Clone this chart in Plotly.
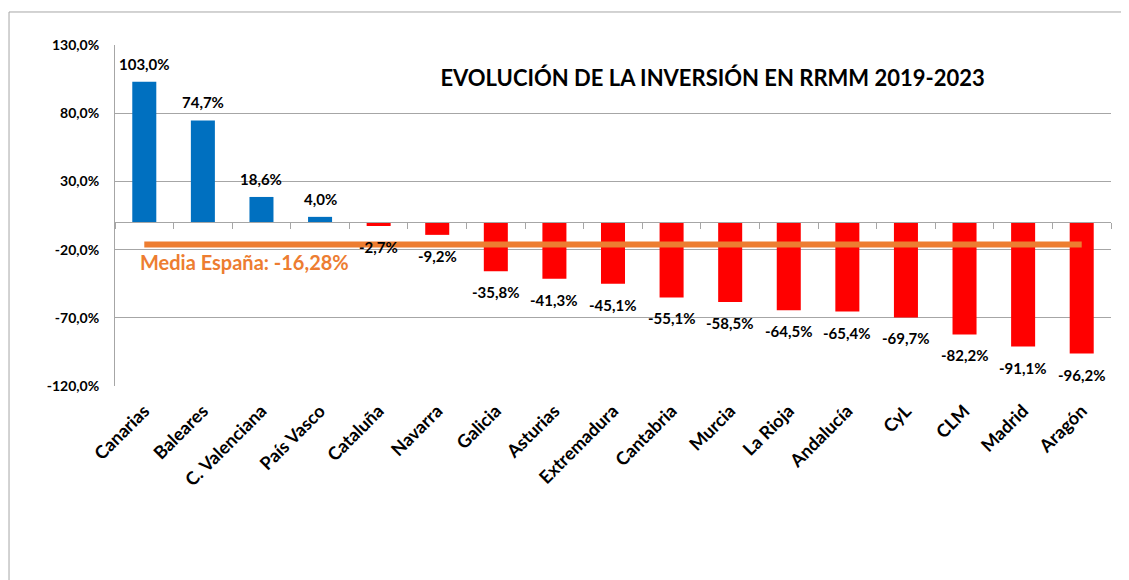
import plotly.graph_objects as go

categories = ["Canarias", "Baleares", "C. Valenciana", "País Vasco", "Cataluña", "Navarra",
              "Galicia", "Asturias", "Extremadura", "Cantabria", "Murcia", "La Rioja",
              "Andalucía", "CyL", "CLM", "Madrid", "Aragón"]
values = [103.0, 74.7, 18.6, 4.0, -2.7, -9.2, -35.8, -41.3, -45.1, -55.1, -58.5, -64.5,
          -65.4, -69.7, -82.2, -91.1, -96.2]
media_espana = -16.28
y_ticks = [-120, -70, -20, 30, 80, 130]
y_tick_labels = ["-120,0%", "-70,0%", "-20,0%", "30,0%", "80,0%", "130,0%"]
title_text = "EVOLUCIÓN DE LA INVERSIÓN EN RRMM 2019-2023"

FONT = "Lato"
colors = ["#0070C0" if v >= 0 else "#FF0000" for v in values]

fig = go.Figure()
fig.add_trace(go.Bar(
    x=categories, y=values, marker=dict(color=colors, line=dict(width=0)),
    width=0.41, showlegend=False, hoverinfo="skip",
))
fig.add_trace(go.Scatter(
    x=[categories[0], categories[-1]], y=[media_espana, media_espana],
    xaxis="x2", mode="lines", line=dict(color="#ED7D31", width=6),
    showlegend=False, hoverinfo="skip",
))

for c, v in zip(categories, values):
    fig.add_annotation(
        x=c, y=v, xref="x", yref="y",
        text=f"{v:.1f}%".replace(".", ","),
        showarrow=False, xanchor="center", yanchor="middle",
        yshift=18 if v >= 0 else -21,
        font=dict(family=FONT, size=15, color="black", weight="bold"),
    )

fig.add_annotation(
    x=categories[0], y=media_espana, xref="x", yref="y",
    text=f"Media España: {media_espana:.2f}%".replace(".", ","),
    showarrow=False, xanchor="left", yanchor="middle", xshift=-6, yshift=-17,
    font=dict(family=FONT, size=20, color="#ED7D31", weight="bold"),
)

fig.add_shape(type="rect", xref="paper", yref="paper",
              x0=-0.1064, x1=1.05, y0=-0.7, y1=1.0968,
              line=dict(color="#A6A6A6", width=1), fillcolor="rgba(0,0,0,0)", layer="below")

fig.update_layout(
    width=1129, height=580,
    margin=dict(l=107, r=26, t=37, b=202),
    paper_bgcolor="white", plot_bgcolor="white",
    title=dict(text=title_text, x=0.6, xref="paper", y=0.903, yref="paper",
               xanchor="center", yanchor="middle",
               font=dict(family=FONT, size=22, color="black", weight="bold")),
    xaxis=dict(type="category", categoryarray=categories, range=[-0.5, 16.5],
               showgrid=False, showline=False, ticks="", tickangle=-45,
               ticklabelstandoff=10,
               tickfont=dict(family=FONT, size=18, color="black", weight="bold"),
               zeroline=False, automargin=False),
    xaxis2=dict(type="category", categoryarray=categories, range=[-0.5, 16.5],
                overlaying="x", anchor="free", position=120 / 250, side="bottom",
                showgrid=False, showline=True, linecolor="#A6A6A6", linewidth=1,
                ticks="outside", tickson="boundaries", ticklen=6, tickcolor="#A6A6A6",
                showticklabels=False),
    yaxis=dict(range=[-120, 130], tickvals=y_ticks, ticktext=y_tick_labels,
               showgrid=True, gridcolor="#A6A6A6", gridwidth=1, zeroline=False,
               showline=True, linecolor="#A6A6A6", linewidth=1, ticks="",
               ticklabelstandoff=12,
               tickfont=dict(family=FONT, size=14, color="black", weight="bold"),
               automargin=False),
)

fig.write_html("out.html")
